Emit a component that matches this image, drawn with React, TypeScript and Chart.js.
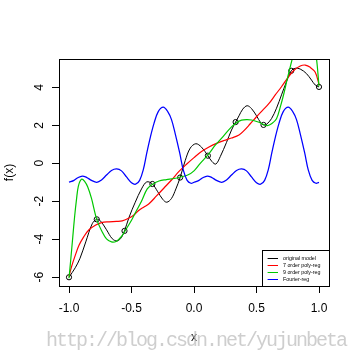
import React, { useEffect, useRef } from 'react';
import { Chart, registerables } from 'chart.js';

Chart.register(...registerables);

// ---- data ----
const sampleX = [-1.0, -0.778, -0.556, -0.333, -0.111, 0.111, 0.333, 0.556, 0.778, 1.0];
const sampleY = [-6.0, -2.95, -3.56, -1.09, -0.75, 0.4, 2.17, 2.02, 4.87, 4.02];

const originalX = [-1, -0.95, -0.912, -0.866, -0.814, -0.778, -0.75, -0.7, -0.654, -0.614, -0.58, -0.556, -0.52, -0.47, -0.42, -0.378, -0.333, -0.29, -0.25, -0.218, -0.18, -0.145, -0.111, -0.07, -0.03, 0.015, 0.06, 0.111, 0.145, 0.175, 0.21, 0.26, 0.3, 0.333, 0.36, 0.39, 0.425, 0.46, 0.5, 0.535, 0.556, 0.58, 0.62, 0.66, 0.7, 0.74, 0.778, 0.81, 0.85, 0.9, 0.94, 0.97, 1.0];
const originalY = [-6.0, -5.5, -5.0, -4.14, -3.18, -2.95, -3.02, -3.5, -3.97, -4.09, -3.9, -3.56, -2.85, -2.05, -1.35, -0.98, -1.09, -1.5, -1.9, -2.05, -1.85, -1.35, -0.75, 0.15, 0.8, 1.03, 0.85, 0.4, 0.08, -0.04, 0.35, 1.1, 1.75, 2.17, 2.5, 2.85, 3.03, 2.88, 2.5, 2.12, 2.02, 2.05, 2.35, 2.9, 3.6, 4.3, 4.87, 5.0, 4.96, 4.72, 4.38, 4.12, 4.02];

const poly7X = [-1, -0.98, -0.95, -0.92, -0.88, -0.84, -0.786, -0.74, -0.68, -0.62, -0.574, -0.52, -0.486, -0.44, -0.4, -0.36, -0.3, -0.24, -0.18, -0.12, -0.06, 0.0, 0.06, 0.12, 0.18, 0.24, 0.3, 0.36, 0.4, 0.45, 0.5, 0.55, 0.6, 0.65, 0.7, 0.75, 0.8, 0.85, 0.89, 0.93, 0.97, 1.0];
const poly7Y = [-5.95, -5.45, -4.85, -4.32, -3.85, -3.5, -3.25, -3.12, -3.08, -3.06, -3.03, -2.88, -2.75, -2.47, -2.3, -2.13, -1.72, -1.3, -0.88, -0.43, -0.05, 0.3, 0.62, 0.86, 1.05, 1.2, 1.33, 1.49, 1.72, 2.08, 2.45, 2.8, 3.15, 3.6, 4.03, 4.5, 4.9, 5.12, 5.17, 5.05, 4.79, 4.15];

const poly9X = [-1, -0.985, -0.97, -0.955, -0.94, -0.925, -0.9, -0.875, -0.85, -0.82, -0.778, -0.734, -0.7, -0.66, -0.62, -0.58, -0.546, -0.5, -0.466, -0.42, -0.374, -0.33, -0.28, -0.22, -0.16, -0.106, -0.05, 0.0, 0.05, 0.111, 0.17, 0.234, 0.3, 0.34, 0.38, 0.42, 0.46, 0.52, 0.56, 0.586, 0.62, 0.66, 0.694, 0.72, 0.746, 0.786, 0.82, 0.86, 0.9, 0.94, 0.97, 0.985, 1.0];
const poly9Y = [-6.05, -5.0, -3.9, -2.8, -1.9, -1.2, -0.84, -0.95, -1.25, -1.85, -2.95, -3.62, -3.98, -4.14, -4.1, -3.85, -3.5, -3.0, -2.56, -2.0, -1.35, -1.1, -0.93, -0.86, -0.8, -0.72, -0.62, -0.4, 0.0, 0.44, 0.95, 1.42, 1.92, 2.14, 2.27, 2.3, 2.28, 2.16, 2.03, 1.98, 2.08, 2.35, 3.05, 3.7, 4.44, 5.5, 6.4, 7.2, 7.5, 7.1, 6.0, 5.2, 4.05];

const fourierX = [-1, -0.96, -0.93, -0.894, -0.86, -0.82, -0.778, -0.74, -0.7, -0.66, -0.619, -0.58, -0.54, -0.5, -0.467, -0.435, -0.406, -0.378, -0.35, -0.32, -0.286, -0.246, -0.21, -0.18, -0.15, -0.114, -0.086, -0.055, -0.025, 0, 0.04, 0.07, 0.106, 0.14, 0.18, 0.222, 0.26, 0.3, 0.34, 0.381, 0.42, 0.46, 0.5, 0.533, 0.565, 0.594, 0.622, 0.65, 0.68, 0.714, 0.754, 0.79, 0.82, 0.85, 0.886, 0.914, 0.945, 0.975, 1.0];
const fourierY = [-1.0, -0.9, -0.76, -0.67, -0.74, -0.9, -1.0, -0.88, -0.62, -0.38, -0.3, -0.4, -0.72, -1.02, -1.1, -0.9, -0.35, 0.53, 1.35, 2.1, 2.72, 2.95, 2.72, 2.3, 1.55, 0.53, -0.35, -0.9, -1.05, -1.0, -0.9, -0.76, -0.67, -0.74, -0.9, -1.0, -0.88, -0.62, -0.38, -0.3, -0.4, -0.72, -1.02, -1.1, -0.9, -0.35, 0.53, 1.35, 2.1, 2.72, 2.95, 2.72, 2.3, 1.55, 0.53, -0.35, -0.9, -1.05, -1.0];

const xTickValues = [-1, -0.5, 0, 0.5, 1];
const xTickLabels = ['-1.0', '-0.5', '0.0', '0.5', '1.0'];
const yTickValues = [-6, -4, -2, 0, 2, 4];
const yTickLabels = ['-6', '-4', '-2', '0', '2', '4'];

const legendLabels = ['original model', '7 order poly-reg', '9 order poly-reg', 'Fourier-reg'];
const lineColors = ['#000000', '#ff0000', '#00c800', '#0000ff'];

const xTitle = 'x';
const yTitle = 'f(x)';
const watermark = 'http://blog.csdn.net/yujunbeta';

const FONT = '"Liberation Sans", Arial, sans-serif';

const toPts = (xs: number[], ys: number[]) => xs.map((x, i) => ({ x, y: ys[i] }));

const rStylePlugin = {
  id: 'rStyle',
  afterDraw(chart: any) {
    const { ctx, chartArea: a, scales } = chart;
    ctx.save();
    // plot box
    ctx.strokeStyle = '#000';
    ctx.lineWidth = 1;
    ctx.strokeRect(Math.round(a.left) + 0.5, Math.round(a.top) + 0.5, Math.round(a.right - a.left), Math.round(a.bottom - a.top));

    // y tick labels, rotated like R
    ctx.fillStyle = '#000';
    ctx.font = `12px ${FONT}`;
    ctx.textAlign = 'center';
    ctx.textBaseline = 'middle';
    yTickValues.forEach((v, i) => {
      const py = scales.y.getPixelForValue(v);
      ctx.save();
      ctx.translate(a.left - 19.5, py);
      ctx.rotate(-Math.PI / 2);
      ctx.fillText(yTickLabels[i], 0, 0);
      ctx.restore();
    });

    // legend box at bottom-right corner
    const lw = 67.5;
    const lh = 35.7;
    const lx = Math.round(a.right - lw);
    const ly = Math.round(a.bottom - lh);
    ctx.fillStyle = '#fff';
    ctx.fillRect(lx, ly, a.right - lx, a.bottom - ly);
    ctx.strokeStyle = '#000';
    ctx.strokeRect(lx + 0.5, ly + 0.5, Math.round(a.right) - lx, Math.round(a.bottom) - ly);
    ctx.font = `5.3px ${FONT}`;
    ctx.textAlign = 'left';
    ctx.textBaseline = 'middle';
    legendLabels.forEach((lab, i) => {
      const ry = ly + 8.4 + i * 7.0;
      ctx.strokeStyle = lineColors[i];
      ctx.lineWidth = 1;
      ctx.beginPath();
      ctx.moveTo(lx + 5.6, Math.round(ry) + 0.5);
      ctx.lineTo(lx + 16, Math.round(ry) + 0.5);
      ctx.stroke();
      ctx.fillStyle = '#000';
      ctx.fillText(lab, lx + 21, ry + 0.5);
    });

    // watermark
    ctx.font = '20px "Liberation Mono", monospace';
    (ctx as any).letterSpacing = '-2px';
    ctx.fillStyle = 'rgba(190,190,190,0.75)';
    ctx.textAlign = 'left';
    ctx.textBaseline = 'alphabetic';
    ctx.fillText(watermark, 46, 346);
    ctx.restore();
  },
};

export default function App() {
  const ref = useRef<HTMLCanvasElement>(null);
  useEffect(() => {
    const canvas = ref.current;
    if (!canvas) return;
    const lineDs = (label: string, xs: number[], ys: number[], color: string, width: number) => ({
      label,
      data: toPts(xs, ys),
      borderColor: color,
      backgroundColor: color,
      borderWidth: width,
      pointRadius: 0,
      tension: 0.35,
      fill: false,
    });
    const chart = new Chart(canvas, {
      type: 'line',
      data: {
        datasets: [
          lineDs(legendLabels[3], fourierX, fourierY, lineColors[3], 1.25),
          lineDs(legendLabels[2], poly9X, poly9Y, lineColors[2], 1.2),
          lineDs(legendLabels[1], poly7X, poly7Y, lineColors[1], 1.2),
          lineDs(legendLabels[0], originalX, originalY, lineColors[0], 1),
          {
            label: 'samples',
            data: toPts(sampleX, sampleY),
            showLine: false,
            pointRadius: 2.6,
            pointBorderWidth: 1,
            pointBorderColor: '#000',
            pointBackgroundColor: 'rgba(0,0,0,0)',
            borderColor: '#000',
            backgroundColor: 'rgba(0,0,0,0)',
          } as any,
        ],
      },
      options: {
        responsive: false,
        animation: false,
        devicePixelRatio: 1,
        events: [],
        layout: { padding: { left: 0, top: 59, right: 31, bottom: 0 } },
        plugins: { legend: { display: false }, tooltip: { enabled: false } },
        scales: {
          x: {
            type: 'linear',
            min: -1.08,
            max: 1.08,
            afterFit: (s: any) => { s.height = 74; },
            afterBuildTicks: (s: any) => { s.ticks = xTickValues.map((value) => ({ value })); },
            ticks: {
              callback: (_v: any, i: number) => xTickLabels[i],
              font: { family: FONT, size: 12 },
              color: '#000',
              padding: 8,
              maxRotation: 0,
              autoSkip: false,
            },
            grid: { drawOnChartArea: false, drawTicks: true, tickLength: 7, color: '#000', lineWidth: 1 },
            border: { display: false },
            title: { display: true, text: xTitle, color: '#000', font: { family: FONT, size: 12 }, padding: { top: 0, bottom: 15 } },
          },
          y: {
            type: 'linear',
            min: -6.46,
            max: 5.49,
            afterFit: (s: any) => { s.width = 59; },
            afterBuildTicks: (s: any) => { s.ticks = yTickValues.map((value) => ({ value })); },
            ticks: { display: false },
            grid: { drawOnChartArea: false, drawTicks: true, tickLength: 7, color: '#000', lineWidth: 1 },
            border: { display: false },
            title: { display: true, text: yTitle, color: '#000', font: { family: FONT, size: 12 }, padding: { top: 2, bottom: 0 } },
          },
        },
      } as any,
      plugins: [rStylePlugin],
    });
    return () => chart.destroy();
  }, []);
  return (
    <div style={{ position: 'absolute', left: 0, top: 0, width: 360, height: 360, background: '#fff' }}>
      <canvas ref={ref} width={360} height={360} style={{ width: 360, height: 360, display: 'block' }} />
    </div>
  );
}
